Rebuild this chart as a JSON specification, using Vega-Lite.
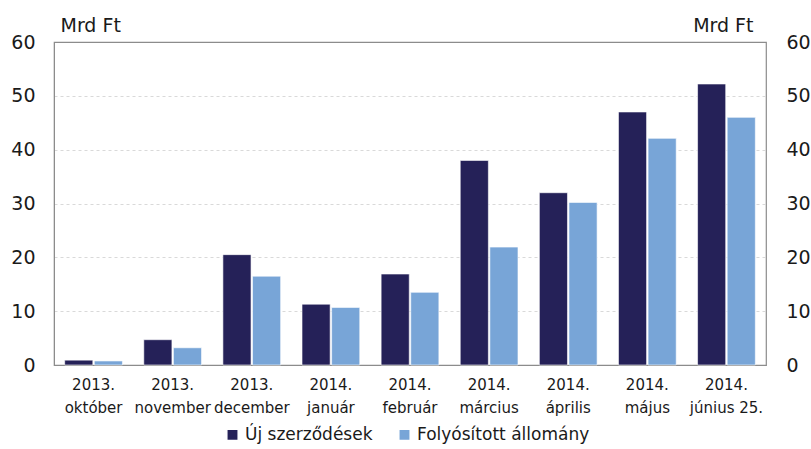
{
  "$schema": "https://vega.github.io/schema/vega-lite/v6.json",
  "width": 712,
  "height": 323,
  "autosize": {"type": "none"},
  "padding": {"left": 54, "top": 42, "right": 45, "bottom": 84},
  "config": {
    "font": "DejaVu Sans",
    "view": {"stroke": "#8c8c8c", "strokeWidth": 1.2},
    "axis": {"labelFont": "DejaVu Sans", "titleFont": "DejaVu Sans"}
  },
  "data": {
    "values": [
      {"honap": "2013. október", "sorozat": "Új szerződések", "ertek": 0.9},
      {"honap": "2013. október", "sorozat": "Folyósított állomány", "ertek": 0.75},
      {"honap": "2013. november", "sorozat": "Új szerződések", "ertek": 4.7},
      {"honap": "2013. november", "sorozat": "Folyósított állomány", "ertek": 3.2},
      {"honap": "2013. december", "sorozat": "Új szerződések", "ertek": 20.5},
      {"honap": "2013. december", "sorozat": "Folyósított állomány", "ertek": 16.5},
      {"honap": "2014. január", "sorozat": "Új szerződések", "ertek": 11.3},
      {"honap": "2014. január", "sorozat": "Folyósított állomány", "ertek": 10.7},
      {"honap": "2014. február", "sorozat": "Új szerződések", "ertek": 16.9},
      {"honap": "2014. február", "sorozat": "Folyósított állomány", "ertek": 13.5},
      {"honap": "2014. március", "sorozat": "Új szerződések", "ertek": 38.0},
      {"honap": "2014. március", "sorozat": "Folyósított állomány", "ertek": 21.9},
      {"honap": "2014. április", "sorozat": "Új szerződések", "ertek": 32.0},
      {"honap": "2014. április", "sorozat": "Folyósított állomány", "ertek": 30.2},
      {"honap": "2014. május", "sorozat": "Új szerződések", "ertek": 47.0},
      {"honap": "2014. május", "sorozat": "Folyósított állomány", "ertek": 42.1},
      {"honap": "2014. június 25.", "sorozat": "Új szerződések", "ertek": 52.2},
      {"honap": "2014. június 25.", "sorozat": "Folyósított állomány", "ertek": 46.0}
    ]
  },
  "encoding": {
    "x": {
      "field": "honap", "type": "nominal", "sort": null,
      "scale": {"paddingInner": 0.27, "paddingOuter": 0.135},
      "axis": {
        "title": null, "labelAngle": 0, "ticks": false, "domain": true,
        "domainColor": "#8c8c8c", "labelFontSize": 15, "labelColor": "#1a1a1a",
        "labelPadding": 12, "labelLineHeight": 23,
        "labelExpr": "[slice(datum.value, 0, 5), slice(datum.value, 6)]"
      }
    },
    "xOffset": {
      "field": "sorozat", "type": "nominal", "sort": ["Új szerződések", "Folyósított állomány"],
      "scale": {"paddingInner": 0.05}
    },
    "y": {
      "field": "ertek", "type": "quantitative",
      "scale": {"domain": [0, 60]}
    },
    "color": {
      "field": "sorozat", "type": "nominal",
      "sort": ["Új szerződések", "Folyósított állomány"],
      "scale": {"domain": ["Új szerződések", "Folyósított állomány"], "range": ["#252158", "#78a5d7"]},
      "legend": {
        "title": null, "orient": "none", "direction": "horizontal",
        "legendX": 170, "legendY": 384, "labelLimit": 0,
        "symbolType": "square", "symbolSize": 130, "symbolOpacity": 1,
        "labelFontSize": 17, "labelColor": "#1a1a1a", "columnPadding": 22, "labelOffset": 4
      }
    }
  },
  "layer": [
    {
      "mark": {"type": "bar", "stroke": "#ffffff", "strokeWidth": 0.6},
      "encoding": {
        "y": {
          "field": "ertek", "type": "quantitative", "scale": {"domain": [0, 60]},
          "axis": {
            "title": "Mrd Ft", "titleAngle": 0, "titleAlign": "left", "titleBaseline": "bottom",
            "titleX": 6, "titleY": -7, "titleFontSize": 19, "titleFontWeight": "normal", "titleColor": "#1a1a1a",
            "values": [0, 10, 20, 30, 40, 50, 60], "ticks": false, "domain": true, "domainColor": "#8c8c8c",
            "labelFontSize": 19, "labelColor": "#1a1a1a", "labelPadding": 19,
            "grid": true, "gridColor": "#cfcfcf", "gridDash": [3, 3], "gridWidth": 0.8,
            "gridOpacity": {"condition": {"test": "datum.value === 60 || datum.value === 0", "value": 0}, "value": 1}
          }
        }
      }
    },
    {
      "mark": {"type": "bar", "opacity": 0},
      "encoding": {
        "y": {
          "field": "ertek", "type": "quantitative", "scale": {"domain": [0, 60]},
          "axis": {
            "orient": "right",
            "title": "Mrd Ft", "titleAngle": 0, "titleAlign": "right", "titleBaseline": "bottom",
            "titleX": -13, "titleY": -7, "titleFontSize": 19, "titleFontWeight": "normal", "titleColor": "#1a1a1a",
            "values": [0, 10, 20, 30, 40, 50, 60], "ticks": false, "domain": false,
            "labelFontSize": 19, "labelColor": "#1a1a1a", "labelPadding": 20, "grid": false
          }
        }
      }
    }
  ],
  "resolve": {"axis": {"y": "independent"}}
}
